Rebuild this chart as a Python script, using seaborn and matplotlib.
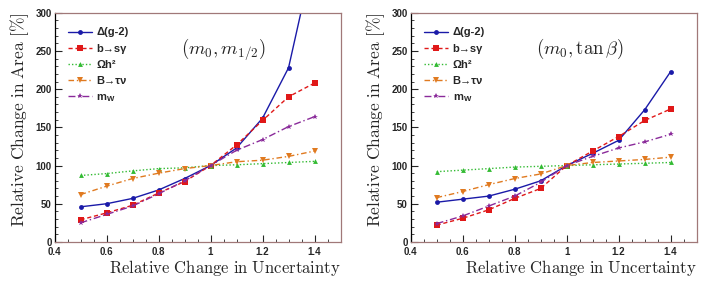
#!/usr/bin/env python3

import numpy
import pandas
import seaborn
import matplotlib.pyplot as plt
from matplotlib.ticker import MultipleLocator


# relative change in uncertainty (x axis)
uncertainty = [0.5, 0.6, 0.7, 0.8, 0.9, 1.0, 1.1, 1.2, 1.3, 1.4]

series_names = ['Δ(g-2)', 'b→sγ', 'Ωh²', 'B→τν', r'm$_\mathregular{W}$']

# left panel: (m0, m1/2)
left_g2 = [46, 50, 57, 68, 83, 100, 123, 162, 228, 380]
left_bsg = [29, 38, 48, 64, 79, 100, 127, 159, 190, 208]
left_oh2 = [87, 89.5, 93, 96, 97, 100, 101, 102.5, 104, 105.5]
left_btn = [62, 73, 83, 90, 96, 100, 105, 107, 112, 119]
left_mw = [25, 36, 47, 63, 80, 100, 120, 134, 151, 164]

# right panel: (m0, tan beta)
right_g2 = [52, 56, 60, 69, 80, 100, 116, 133, 173, 223]
right_bsg = [22, 31, 42, 57, 70, 100, 119, 138, 159, 174]
right_oh2 = [92, 94, 96, 98, 99, 100, 101, 102, 103, 104]
right_btn = [58, 66, 75, 83, 89, 100, 104, 106, 108, 111]
right_mw = [24, 34, 47, 60, 78, 100, 112, 123, 131, 141]

colors = ['#1a1aa8', '#e01818', '#33bb33', '#e07a20', '#8a2a9a']
line_styles = ['-', (0, (3, 2)), (0, (1, 1.5)), (0, (4, 2, 1, 2)), (0, (5, 2, 1, 2))]
marker_styles = ['o', 's', '^', 'v', '*']
marker_sizes = [3.5, 4, 3.5, 4, 4]

seaborn.set_style('ticks')
plt.rcParams['font.family'] = ['Liberation Sans', 'DejaVu Sans']
plt.rcParams['mathtext.fontset'] = 'cm'


def draw_panel(ax, values, label):
    frame = pandas.DataFrame({'x': uncertainty * len(series_names),
                              'y': numpy.concatenate(values),
                              'name': numpy.repeat(series_names, len(uncertainty))})
    for i, name in enumerate(series_names):
        sub = frame[frame['name'] == name]
        seaborn.lineplot(data=sub, x='x', y='y', ax=ax, color=colors[i], linestyle=line_styles[i],
                         marker=marker_styles[i], markersize=marker_sizes[i], markeredgewidth=0,
                         linewidth=1.0, label=name, sort=False)

    ax.set_xlim(0.4, 1.5)
    ax.set_ylim(0, 300)
    ax.xaxis.set_major_locator(MultipleLocator(0.2))
    ax.xaxis.set_minor_locator(MultipleLocator(0.05))
    ax.yaxis.set_major_locator(MultipleLocator(50))
    ax.yaxis.set_minor_locator(MultipleLocator(10))
    ax.set_xticks([0.4, 0.6, 0.8, 1.0, 1.2, 1.4])
    ax.set_xticklabels(['0.4', '0.6', '0.8', '1', '1.2', '1.4'])
    ax.tick_params(which='major', direction='in', length=5, width=0.8, labelsize=7, pad=2)
    ax.tick_params(axis='x', which='major', pad=3.5)
    ax.tick_params(which='minor', direction='in', length=2.5, width=0.6)
    for lab in ax.get_xticklabels() + ax.get_yticklabels():
        lab.set_fontweight('bold')

    for side in ['top', 'right', 'bottom']:
        ax.spines[side].set_visible(True)
        ax.spines[side].set_color('#a07878')
    ax.spines['left'].set_color('black')
    for s in ax.spines.values():
        s.set_linewidth(0.9)

    ax.set_xlabel(r'$\mathrm{Relative\ Change\ in\ Uncertainty}$', fontsize=12, loc='right', labelpad=1)
    ax.set_ylabel(r'$\mathrm{Relative\ Change\ in\ Area\ [\%]}$', fontsize=12.5, loc='top', labelpad=3)
    ax.text(0.59, 0.84, label, transform=ax.transAxes, fontsize=13.5, ha='center', va='center')

    ax.legend(loc='upper left', bbox_to_anchor=(0.03, 0.955), frameon=False,
              handlelength=2.2, labelspacing=0.55, borderaxespad=0, handletextpad=0.4,
              prop={'weight': 'bold', 'size': 8})


fig, axes = plt.subplots(1, 2, figsize=(7.08, 2.83), dpi=100)
draw_panel(axes[0], [left_g2, left_bsg, left_oh2, left_btn, left_mw], r'$(m_0, m_{1/2})$')
draw_panel(axes[1], [right_g2, right_bsg, right_oh2, right_btn, right_mw], r'$(m_0, \tan\beta)$')

plt.subplots_adjust(left=0.077, right=0.984, top=0.955, bottom=0.145, wspace=0.245)
fig.savefig('out.png', dpi=100)
